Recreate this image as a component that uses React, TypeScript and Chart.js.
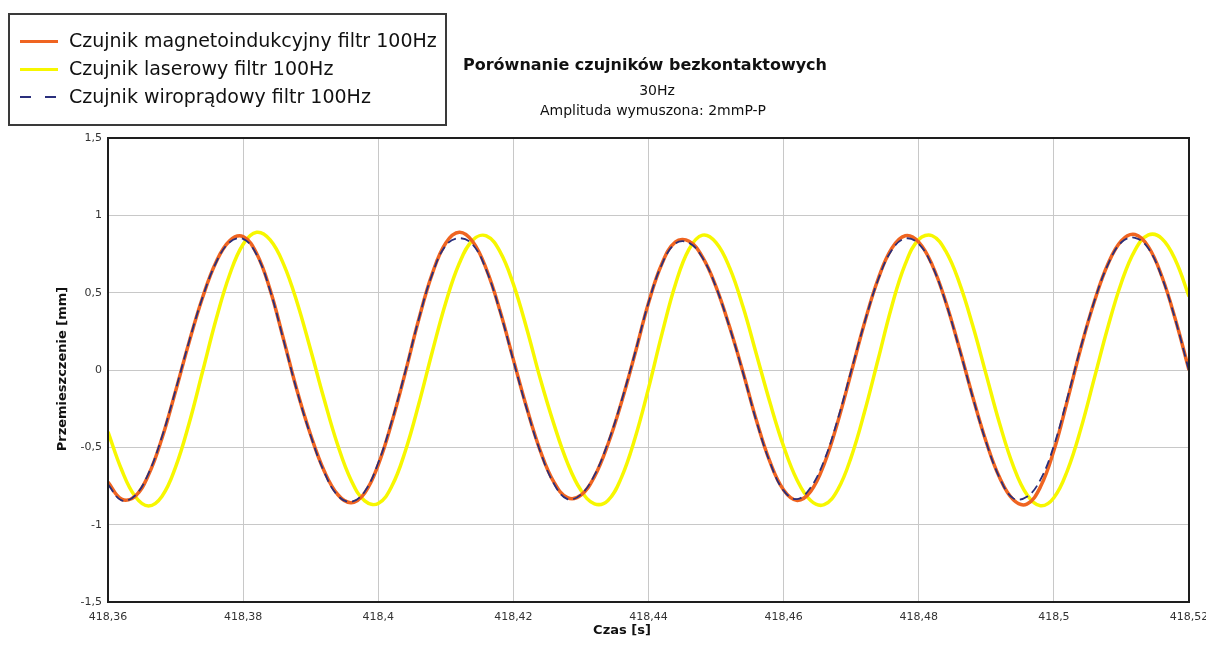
import React, { useEffect, useRef } from 'react';
import { Chart, registerables } from 'chart.js';

Chart.register(...registerables);

const TIME = [
  418.36, 418.362, 418.364, 418.366, 418.368, 418.37, 418.372, 418.374, 418.376, 418.378,
  418.38, 418.382, 418.384, 418.386, 418.388, 418.39, 418.392, 418.394, 418.396, 418.398,
  418.4, 418.402, 418.404, 418.406, 418.408, 418.41, 418.412, 418.414, 418.416, 418.418,
  418.42, 418.422, 418.424, 418.426, 418.428, 418.43, 418.432, 418.434, 418.436, 418.438,
  418.44, 418.442, 418.444, 418.446, 418.448, 418.45, 418.452, 418.454, 418.456, 418.458,
  418.46, 418.462, 418.464, 418.466, 418.468, 418.47, 418.472, 418.474, 418.476, 418.478,
  418.48, 418.482, 418.484, 418.486, 418.488, 418.49, 418.492, 418.494, 418.496, 418.498,
  418.5, 418.502, 418.504, 418.506, 418.508, 418.51, 418.512, 418.514, 418.516, 418.518,
  418.52,
];

const MAGNETO = [
  -0.725, -0.835, -0.817, -0.678, -0.44, -0.137, 0.18, 0.469, 0.698, 0.835,
  0.862, 0.753, 0.518, 0.196, -0.136, -0.42, -0.653, -0.805, -0.858, -0.795,
  -0.613, -0.34, -0.017, 0.328, 0.623, 0.821, 0.89, 0.829, 0.652, 0.386,
  0.067, -0.248, -0.524, -0.725, -0.825, -0.809, -0.689, -0.48, -0.208, 0.105,
  0.433, 0.689, 0.828, 0.833, 0.73, 0.538, 0.279, -0.016, -0.33, -0.596,
  -0.776, -0.843, -0.785, -0.608, -0.338, -0.016, 0.309, 0.59, 0.786, 0.868,
  0.827, 0.678, 0.44, 0.143, -0.174, -0.467, -0.699, -0.839, -0.867, -0.757,
  -0.521, -0.197, 0.144, 0.444, 0.685, 0.836, 0.876, 0.796, 0.603, 0.325,
  0.0,
];

const LASER = [
  -0.4, -0.643, -0.816, -0.879, -0.816, -0.628, -0.346, -0.01, 0.328, 0.616,
  0.813, 0.89, 0.841, 0.683, 0.435, 0.129, -0.191, -0.485, -0.714, -0.846,
  -0.863, -0.752, -0.525, -0.22, 0.118, 0.437, 0.69, 0.841, 0.867, 0.767,
  0.555, 0.264, -0.06, -0.35, -0.6, -0.778, -0.865, -0.843, -0.694, -0.441,
  -0.119, 0.235, 0.556, 0.782, 0.872, 0.824, 0.662, 0.407, 0.097, -0.214,
  -0.494, -0.713, -0.844, -0.871, -0.775, -0.563, -0.267, 0.071, 0.411, 0.684,
  0.844, 0.868, 0.768, 0.565, 0.286, -0.033, -0.351, -0.621, -0.805, -0.878,
  -0.826, -0.65, -0.379, -0.051, 0.278, 0.566, 0.774, 0.873, 0.849, 0.71,
  0.476,
];

const EDDY = [
  -0.74, -0.843, -0.812, -0.668, -0.43, -0.13, 0.185, 0.47, 0.695, 0.826,
  0.848, 0.745, 0.512, 0.19, -0.14, -0.425, -0.66, -0.812, -0.852, -0.785,
  -0.6, -0.33, -0.01, 0.33, 0.62, 0.805, 0.852, 0.81, 0.645, 0.38,
  0.06, -0.255, -0.53, -0.735, -0.835, -0.805, -0.68, -0.47, -0.2, 0.11,
  0.435, 0.685, 0.818, 0.822, 0.725, 0.535, 0.275, -0.02, -0.335, -0.6,
  -0.78, -0.835, -0.76, -0.585, -0.32, -0.005, 0.31, 0.585, 0.775, 0.85,
  0.815, 0.672, 0.435, 0.138, -0.178, -0.47, -0.7, -0.83, -0.82, -0.71,
  -0.49, -0.18, 0.15, 0.447, 0.682, 0.826, 0.855, 0.785, 0.597, 0.322,
  -0.005,
];

const X_TICKS = [418.36, 418.38, 418.4, 418.42, 418.44, 418.46, 418.48, 418.5, 418.52];
const X_TICK_LABELS = ['418,36', '418,38', '418,4', '418,42', '418,44', '418,46', '418,48', '418,5', '418,52'];
const Y_TICKS = [-1.5, -1, -0.5, 0, 0.5, 1, 1.5];
const Y_TICK_LABELS = ['-1,5', '-1', '-0,5', '0', '0,5', '1', '1,5'];

const SERIES_NAMES = [
  'Czujnik magnetoindukcyjny filtr 100Hz',
  'Czujnik laserowy filtr 100Hz',
  'Czujnik wiroprądowy filtr 100Hz',
];
const TITLE = 'Porównanie czujników bezkontaktowych';
const SUBTITLE_1 = '30Hz';
const SUBTITLE_2 = 'Amplituda wymuszona: 2mmP-P';
const X_TITLE = 'Czas [s]';
const Y_TITLE = 'Przemieszczenie [mm]';

const ORANGE = '#ef6421';
const YELLOW = '#f7f700';
const NAVY = '#2a2f7c';
const FONT = '"DejaVu Sans", "Noto Sans", sans-serif';

const decorPlugin = {
  id: 'decor',
  afterDraw(chart: any) {
    const { ctx, chartArea: a } = chart;
    ctx.save();
    // plot frame
    ctx.strokeStyle = '#1e1e1e';
    ctx.lineWidth = 2;
    ctx.strokeRect(a.left, a.top, a.right - a.left, a.bottom - a.top);

    // legend box
    ctx.strokeStyle = '#3a3a3a';
    ctx.lineWidth = 2;
    ctx.strokeRect(9, 14, 437, 111);
    const rows = [41.5, 69.5, 97];
    const styles = [
      { color: ORANGE, width: 3, dash: [] as number[] },
      { color: YELLOW, width: 3, dash: [] as number[] },
      { color: NAVY, width: 1.8, dash: [11, 14] },
    ];
    rows.forEach((y, i) => {
      const s = styles[i];
      ctx.beginPath();
      ctx.setLineDash(s.dash);
      ctx.strokeStyle = s.color;
      ctx.lineWidth = s.width;
      ctx.moveTo(20, y);
      ctx.lineTo(58, y);
      ctx.stroke();
      ctx.setLineDash([]);
      ctx.fillStyle = '#111';
      ctx.font = `19px ${FONT}`;
      ctx.textAlign = 'left';
      ctx.textBaseline = 'middle';
      ctx.fillText(SERIES_NAMES[i], 69, y + 1);
    });

    // titles
    ctx.fillStyle = '#111';
    ctx.textAlign = 'center';
    ctx.textBaseline = 'middle';
    ctx.font = `bold 16px ${FONT}`;
    ctx.fillText(TITLE, 645, 66);
    ctx.font = `14px ${FONT}`;
    ctx.fillText(SUBTITLE_1, 657, 91);
    ctx.fillText(SUBTITLE_2, 653, 111);

    // axis titles
    ctx.font = `bold 13px ${FONT}`;
    ctx.fillText(X_TITLE, 622, 631);
    ctx.translate(63, 369);
    ctx.rotate(-Math.PI / 2);
    ctx.fillText(Y_TITLE, 0, 0);
    ctx.restore();
  },
};

export default function App() {
  const ref = useRef<HTMLCanvasElement | null>(null);

  useEffect(() => {
    if (!ref.current) return;
    const mk = (vals: number[]) => TIME.map((t, i) => ({ x: t, y: vals[i] }));
    const chart = new Chart(ref.current, {
      type: 'line',
      data: {
        datasets: [
          {
            label: SERIES_NAMES[2],
            data: mk(EDDY),
            borderColor: NAVY,
            borderWidth: 1.8,
            borderDash: [9, 5],
            pointRadius: 0,
            tension: 0.4,
            fill: false,
            order: 0,
          },
          {
            label: SERIES_NAMES[0],
            data: mk(MAGNETO),
            borderColor: ORANGE,
            borderWidth: 3.5,
            pointRadius: 0,
            tension: 0.4,
            fill: false,
            order: 1,
          },
          {
            label: SERIES_NAMES[1],
            data: mk(LASER),
            borderColor: YELLOW,
            borderWidth: 3.5,
            pointRadius: 0,
            tension: 0.4,
            fill: false,
            order: 2,
          },
        ],
      },
      options: {
        responsive: false,
        animation: false,
        devicePixelRatio: 1,
        layout: { padding: { left: 0, top: 138, right: 17, bottom: 0 } },
        plugins: {
          legend: { display: false },
          tooltip: { enabled: false },
          title: { display: false },
        },
        scales: {
          x: {
            type: 'linear',
            min: 418.36,
            max: 418.52,
            afterBuildTicks: (s: any) => {
              s.ticks = X_TICKS.map((v) => ({ value: v }));
            },
            afterFit: (s: any) => {
              s.height = 44;
              s.paddingLeft = 0;
              s.paddingRight = 0;
            },
            ticks: {
              autoSkip: false,
              maxRotation: 0,
              padding: 9,
              color: '#333',
              font: { family: FONT, size: 11 },
              callback: (v: any) => X_TICK_LABELS[X_TICKS.indexOf(v)] ?? '',
            },
            grid: { color: '#c8c8c8', lineWidth: 1, drawTicks: false },
            border: { display: false },
          },
          y: {
            type: 'linear',
            min: -1.5,
            max: 1.5,
            afterBuildTicks: (s: any) => {
              s.ticks = Y_TICKS.map((v) => ({ value: v }));
            },
            afterFit: (s: any) => {
              s.width = 108;
              s.paddingTop = 0;
              s.paddingBottom = 0;
            },
            ticks: {
              padding: 6,
              color: '#333',
              font: { family: FONT, size: 11 },
              callback: (v: any) => Y_TICK_LABELS[Y_TICKS.indexOf(v)] ?? '',
            },
            grid: { color: '#c8c8c8', lineWidth: 1, drawTicks: false },
            border: { display: false },
          },
        },
      },
      plugins: [decorPlugin],
    } as any);
    return () => chart.destroy();
  }, []);

  return (
    <div style={{ position: 'fixed', left: 0, top: 0, width: 1206, height: 646, background: '#fff' }}>
      <canvas ref={ref} width={1206} height={646} />
    </div>
  );
}
